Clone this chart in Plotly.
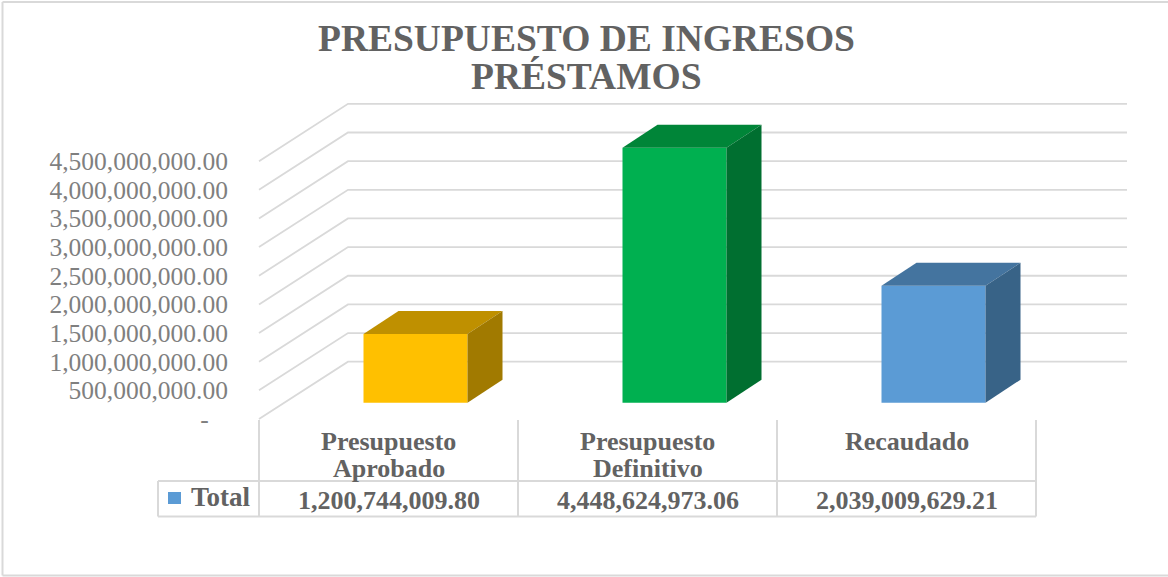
import plotly.graph_objects as go

# --- data ---
categories = ["Presupuesto<br>Aprobado", "Presupuesto<br>Definitivo", "Recaudado"]
values = [1200744009.80, 4448624973.06, 2039009629.21]
tick_values = [0, 5e8, 1e9, 1.5e9, 2e9, 2.5e9, 3e9, 3.5e9, 4e9, 4.5e9]
tick_labels = ["-\u00a0\u00a0\u00a0", "500,000,000.00", "1,000,000,000.00", "1,500,000,000.00",
               "2,000,000,000.00", "2,500,000,000.00", "3,000,000,000.00", "3,500,000,000.00",
               "4,000,000,000.00", "4,500,000,000.00"]
title_lines = ["PRESUPUESTO DE INGRESOS", "PRÉSTAMOS"]
series_name = "Total"
front_colors = ["#ffc000", "#00b050", "#5b9bd5"]
top_colors = ["#bf9000", "#008538", "#44749f"]
side_colors = ["#a17a00", "#006f30", "#386387"]

# --- geometry of the pseudo-3D scene ---
W, H = 1168, 577
CAT_PX = 259.0        # pixels per category
CAT0_PX = 388.5       # pixel of first category centre
ZERO_PX = 419.0       # pixel of value 0 on the front plane
PX_PER_UNIT = 57.3 / 1e9
x_range = [-CAT0_PX / CAT_PX, (W - CAT0_PX) / CAT_PX]
y_range = [(ZERO_PX - H) / PX_PER_UNIT, ZERO_PX / PX_PER_UNIT]
dxu = lambda px: px / CAT_PX
dyu = lambda px: px / PX_PER_UNIT
pap = lambda py: 1 - py / H

GRID = "#d9d9d9"
TXT = "#626262"
FONT = "Liberation Serif"

wall_dx, wall_dy = dxu(89), dyu(57.3)
x_left = -0.5
x_end = dxu(1127 - CAT0_PX)
bar_shift, bar_w = dxu(27), dxu(104)
base = dyu(16.3)
depth_dx, depth_dy = dxu(35), dyu(23)

shapes = []
# back wall and side wall gridlines
for v in tick_values:
    shapes.append(dict(type="path", layer="below", xref="x", yref="y",
                       path=f"M{x_left},{v} L{x_left + wall_dx},{v + wall_dy} L{x_end},{v + wall_dy}",
                       line=dict(color=GRID, width=1.8)))
# data table rules
table_top, table_mid, table_bot = 420, 481, 516.5
left_px = 158
for i in range(len(categories) + 1):
    shapes.append(dict(type="line", xref="x", yref="paper", layer="below",
                       x0=i - 0.5, x1=i - 0.5, y0=pap(table_top), y1=pap(table_bot),
                       line=dict(color=GRID, width=2)))
for py in (table_mid, table_bot):
    shapes.append(dict(type="line", xref="paper", yref="paper", layer="below",
                       x0=left_px / W, x1=(CAT0_PX + 2.5 * CAT_PX) / W, y0=pap(py), y1=pap(py),
                       line=dict(color=GRID, width=2)))
shapes.append(dict(type="line", xref="paper", yref="paper", layer="below",
                   x0=left_px / W, x1=left_px / W, y0=pap(table_mid), y1=pap(table_bot),
                   line=dict(color=GRID, width=2)))
# legend key
shapes.append(dict(type="rect", xref="paper", yref="paper",
                   x0=168 / W, x1=181 / W, y0=pap(504), y1=pap(492),
                   fillcolor=front_colors[2], line=dict(width=0)))
# chart frame
for x0, y0, x1, y1 in [(2.5, 2, 2.5, 575.5), (2.5, 2, W, 2), (2.5, 575.5, W, 575.5)]:
    shapes.append(dict(type="line", xref="paper", yref="paper", layer="below",
                       x0=x0 / W, x1=x1 / W, y0=pap(y0), y1=pap(y1),
                       line=dict(color=GRID, width=2)))

fig = go.Figure()
xs = [i + bar_shift for i in range(len(values))]
fig.add_trace(go.Bar(x=xs, y=values, base=[base] * len(values), width=bar_w, name=series_name,
                     marker=dict(color=front_colors, line=dict(width=0)), showlegend=False))
for i, v in enumerate(values):
    l, r = xs[i] - bar_w / 2, xs[i] + bar_w / 2
    b, t = base, base + v
    fig.add_trace(go.Scatter(
        x=[l, r, r + depth_dx, l + depth_dx, l], y=[t, t, t + depth_dy, t + depth_dy, t],
        fill="toself", fillcolor=top_colors[i], mode="lines", line=dict(width=0),
        showlegend=False, hoverinfo="skip"))
    fig.add_trace(go.Scatter(
        x=[r, r + depth_dx, r + depth_dx, r, r], y=[b, b + depth_dy, t + depth_dy, t, b],
        fill="toself", fillcolor=side_colors[i], mode="lines", line=dict(width=0),
        showlegend=False, hoverinfo="skip"))

annotations = []
for text, py in zip(title_lines, (38, 76)):
    annotations.append(dict(text=f"<b>{text}</b>", xref="paper", yref="paper", x=586 / W, y=pap(py),
                            showarrow=False, xanchor="center", yanchor="middle",
                            font=dict(family=FONT, size=37.5, color=TXT)))
for i, (c, v) in enumerate(zip(categories, values)):
    lines = c.split("<br>")
    for j, line in enumerate(lines):
        annotations.append(dict(text=f"<b>{line}</b>", xref="x", yref="paper", x=i, y=pap(441 + 27 * j),
                                showarrow=False, xanchor="center", yanchor="middle",
                                font=dict(family=FONT, size=26, color=TXT)))
    annotations.append(dict(text=f"<b>{v:,.2f}</b>", xref="x", yref="paper", x=i, y=pap(500),
                            showarrow=False, xanchor="center", yanchor="middle",
                            font=dict(family=FONT, size=26, color=TXT)))
annotations.append(dict(text=f"<b>{series_name}</b>", xref="paper", yref="paper", x=220.5 / W, y=pap(497),
                        showarrow=False, xanchor="center", yanchor="middle",
                        font=dict(family=FONT, size=27, color=TXT)))

fig.update_layout(
    width=W, height=H, margin=dict(l=0, r=0, t=0, b=0),
    paper_bgcolor="white", plot_bgcolor="white", showlegend=False,
    shapes=shapes, annotations=annotations,
    xaxis=dict(range=x_range, visible=False, fixedrange=True),
    yaxis=dict(range=y_range, tickvals=tick_values, ticktext=tick_labels,
               anchor="free", position=258 / W, showgrid=False, zeroline=False, showline=False,
               ticks="outside", ticklen=25, tickcolor="rgba(0,0,0,0)", fixedrange=True,
               tickfont=dict(family=FONT, size=25.5, color="#7f7f7f")),
)
fig.write_html("out.html", post_script="document.body.style.margin='0';",
               config={"displayModeBar": False})
